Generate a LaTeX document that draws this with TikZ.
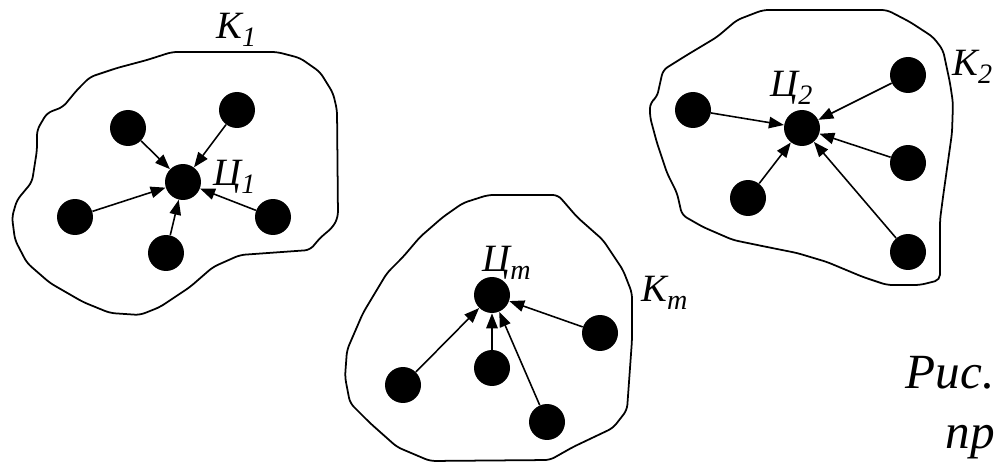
\documentclass[tikz,border=0pt]{standalone}
\usepackage{fontspec}
\setmainfont{Liberation Serif}[ItalicFont={Liberation Serif Italic}]
\usetikzlibrary{arrows.meta}
\newcommand{\lowidx}[1]{\raisebox{-.45ex}{\fontsize{16}{16}\selectfont #1}}
\begin{document}
\begin{tikzpicture}[x=.02cm,y=-.02cm,
    dot/.style={circle,fill=black,inner sep=0pt,minimum size=.72cm},
    feed/.style={line width=.9pt,-{Triangle[length=8.5pt,width=6.5pt]}},
    rim/.style={line width=1pt,rounded corners=3pt},
    lbl/.style={anchor=base west,inner sep=0pt,font=\fontsize{22}{22}\selectfont\itshape}]
  \useasboundingbox (0,0) rectangle (997,462);
  % cluster 1
  \draw[rim] (172,52) -- (277,52) -- (300,58) -- (320,72) -- (333,93) -- (337,110)
    -- (338,217) -- (333,227) -- (320,238) -- (310,250) -- (240,255) -- (213,267)
    -- (190,287) -- (160,307) -- (140,315) -- (110,313) -- (83,302) -- (50,283)
    -- (27,263) -- (15,240) -- (12,217) -- (17,200) -- (32,182) -- (37,150)
    -- (37,130) -- (47,113) -- (63,107) -- (77,90) -- (90,77) -- (117,68)
    -- (147,60) -- cycle;
  \node[dot] (c1) at (183,182) {};
  \foreach \n/\x/\y in {a/128/128,b/237/110,c/75/217,d/166/253,e/273/217}{
    \node[dot] (c1\n) at (\x,\y) {};
    \draw[feed] (c1\n) -- (c1);
  }
  \node[lbl] (c1name) at (213,186) {Ц\lowidx{1}};
  \node[lbl] (k1name) at (216,39) {К\lowidx{1}};
  % cluster 2
  \draw[rim] (763,10) -- (887,10) -- (910,22) -- (933,37) -- (943,50) -- (950,83)
    -- (953,103) -- (952,133) -- (943,197) -- (940,220) -- (940,280) -- (920,285)
    -- (887,285) -- (863,277) -- (827,262) -- (797,253) -- (767,247) -- (733,240)
    -- (703,227) -- (682,215) -- (677,193) -- (667,173) -- (657,143) -- (650,117)
    -- (650,103) -- (657,97) -- (663,70) -- (687,55) -- (717,37) -- (737,20)
    -- cycle;
  \node[dot] (c2) at (802,128) {};
  \foreach \n/\x/\y in {a/693/110,b/908/75,c/908/163,d/748/198,e/908/252}{
    \node[dot] (c2\n) at (\x,\y) {};
    \draw[feed] (c2\n) -- (c2);
  }
  \node[lbl] (c2name) at (770,97) {Ц\lowidx{2}};
  \node[lbl] (k2name) at (952,76) {К\lowidx{2}};
  % cluster m
  \draw[rim] (488,195) -- (558,195) -- (577,217) -- (603,240) -- (623,270)
    -- (632,293) -- (632,340) -- (627,410) -- (613,428) -- (573,447) -- (550,460)
    -- (430,461) -- (397,447) -- (370,423) -- (350,403) -- (345,377) -- (347,350)
    -- (363,313) -- (387,273) -- (403,257) -- (420,237) -- (443,217) -- (463,203)
    -- cycle;
  \node[dot] (cm) at (492,295) {};
  \foreach \n/\x/\y in {a/403/385,b/492/368,c/600/333,d/547/422}{
    \node[dot] (cm\n) at (\x,\y) {};
    \draw[feed] (cm\n) -- (cm);
  }
  \node[lbl] (cmname) at (482,272) {Ц\lowidx{m}};
  \node[lbl] (kmname) at (641,302) {К\lowidx{m}};
  % caption
  \node[lbl,anchor=base east,font=\fontsize{28}{28}\selectfont\itshape] (fig) at (995,388) {Рис.};
  \node[lbl,anchor=base east,font=\fontsize{28}{28}\selectfont\itshape] (figtail) at (995,448) {пр};
\end{tikzpicture}
\end{document}
